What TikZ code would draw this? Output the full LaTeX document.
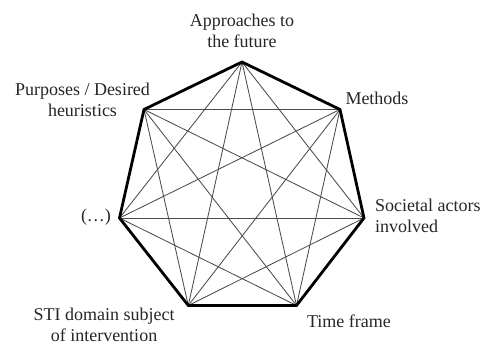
\documentclass[tikz,border=0pt]{standalone}
\usepackage{fontspec}
\setmainfont{Liberation Serif}
\begin{document}
\begin{tikzpicture}[x=1pt,y=1pt,
  lbl/.style={inner sep=0pt,align=center,font=\fontsize{18}{20.5}\selectfont,text=black!85},
  chord/.style={draw=black!70,line width=0.85pt},
  rim/.style={draw=black,line width=2.8pt,line join=miter}]
\useasboundingbox (0,0) rectangle (483,345);
\coordinate (A) at (242,283);
\coordinate (M) at (340,235.5);
\coordinate (S) at (364,127);
\coordinate (T) at (296.5,39.5);
\coordinate (D) at (188.3,39.5);
\coordinate (L) at (119.5,127);
\coordinate (P) at (144,235.5);
\foreach \u/\v in {A/S,A/T,A/D,A/L,M/T,M/D,M/L,M/P,S/D,S/L,S/P,T/L,T/P,D/P}
  \draw[chord] (\u) -- (\v);
\draw[rim] (A) -- (M) -- (S) -- (T) -- (D) -- (L) -- (P) -- cycle;
\node[lbl] (la) at (242,314) {Approaches to\\the future};
\node[lbl] (lp) at (82.5,245) {Purposes / Desired\\heuristics};
\node[lbl] (lm) at (377,247) {Methods};
\node[lbl] (ll) at (96,127.5) {(\dots)};
\node[lbl,align=left,anchor=west] (ls) at (375,129) {Societal actors\\involved};
\node[lbl] (ld) at (104,20) {STI domain subject\\of intervention};
\node[lbl] (lt) at (349,24) {Time frame};
\end{tikzpicture}
\end{document}
